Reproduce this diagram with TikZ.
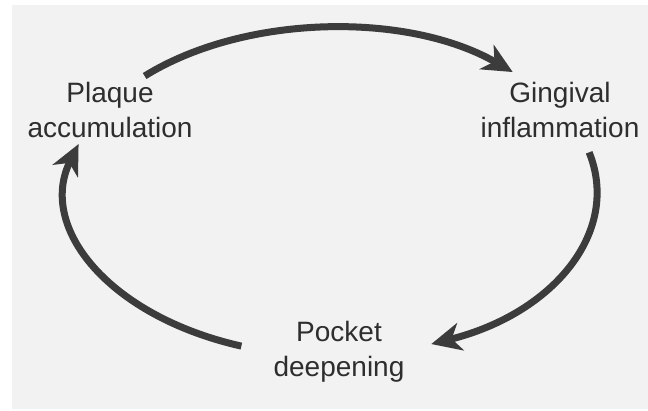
\documentclass[tikz,border=0pt]{standalone}
\usepackage{fontspec}
\setmainfont{Liberation Sans}
\usetikzlibrary{arrows.meta}
\definecolor{bggray}{HTML}{F2F2F2}
\definecolor{arrowgray}{HTML}{3C3C3C}
\definecolor{textgray}{HTML}{2E2E2E}
\begin{document}
\begin{tikzpicture}[x=1pt,y=1pt,
  label/.style={align=center,inner sep=0pt,text=textgray,font=\fontsize{28}{35}\selectfont},
  cyclearrow/.style={draw=arrowgray,line width=7pt,-{Stealth[length=30pt,width=28pt,inset=9pt]}}]
  \useasboundingbox (0,0) rectangle (648,411);
  \fill[white] (0,0) rectangle (648,411);
  \fill[bggray] (12,2) rectangle (648,406);
  % labels
  \node[label] (plaque) at (110,301) {Plaque\\accumulation};
  \node[label] (gingival) at (560,301) {Gingival\\inflammation};
  \node[label] (pocket) at (339,59.5) {Pocket\\deepening};
  % arc start points on the ellipse centred at (332,219), radii 265 x 164
  \coordinate (topstart) at ({332+265*cos(135)},{219+164*sin(135)});
  \coordinate (rightstart) at ({332+265*cos(14)},{219+164*sin(14)});
  \coordinate (leftstart) at ({332+265*cos(-110)},{219+164*sin(-110)});
  \draw[cyclearrow] (topstart) arc[start angle=135,end angle=47,x radius=265pt,y radius=164pt];
  \draw[cyclearrow] (rightstart) arc[start angle=14,end angle=-68,x radius=265pt,y radius=164pt];
  \draw[cyclearrow] (leftstart) arc[start angle=-110,end angle=-197,x radius=265pt,y radius=164pt];
\end{tikzpicture}
\end{document}
